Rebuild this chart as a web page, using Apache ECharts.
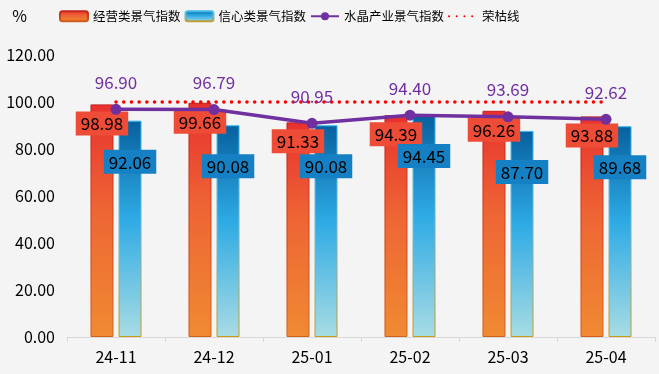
<!DOCTYPE html>
<html><head><meta charset="utf-8">
<script src="https://cdn.jsdelivr.net/npm/echarts@6/dist/echarts.min.js"></script>
<style>html,body{margin:0;padding:0;background:#F4F4F4}#c{width:659px;height:374px}</style>
</head><body><div id="c"></div>
<script>
const categories = ['24-11','24-12','25-01','25-02','25-03','25-04'];
const businessIndex = [98.98, 99.66, 91.33, 94.39, 96.26, 93.88];
const confidenceIndex = [92.06, 90.08, 90.08, 94.45, 87.70, 89.68];
const crystalIndex = [96.90, 96.79, 90.95, 94.40, 93.69, 92.62];
const boomLine = [100, 100, 100, 100, 100, 100];
const yTicks = [0, 20, 40, 60, 80, 100, 120];

const FONT = '"Noto Sans CJK SC","Noto Sans",sans-serif';
const chart = echarts.init(document.getElementById('c'));
const grad = (stops) => new echarts.graphic.LinearGradient(0,0,0,1, stops.map((c)=>({offset:c[0], color:c[1]})));
chart.setOption({
  backgroundColor: '#F4F4F4',
  textStyle: {fontFamily: FONT},
  legend: {
    top: 10, left: 59, padding: 0, itemWidth: 28, itemHeight: 10, itemGap: 4,
    textStyle: {fontSize: 12.5, color: '#000', fontFamily: FONT},
    data: ['经营类景气指数','信心类景气指数',
      {name: '水晶产业景气指数'},
      {name: '荣枯线', itemStyle: {opacity: 0}}]
  },
  grid: {left: 67, right: 4, top: 55, bottom: 37},
  xAxis: {
    type: 'category', data: categories,
    axisLine: {lineStyle: {color: '#D9D9D9'}},
    axisTick: {show: true, length: 5, lineStyle: {color: '#D9D9D9'}},
    axisLabel: {fontSize: 16, color: '#000', margin: 12, fontFamily: FONT}
  },
  yAxis: {
    type: 'value', min: yTicks[0], max: yTicks[yTicks.length-1], interval: 20,
    name: '%', nameLocation: 'end', nameGap: 31,
    nameTextStyle: {fontSize: 16, color: '#000', align: 'right', padding: [0, 40, 0, 0]},
    axisLine: {show: false}, axisTick: {show: false},
    splitLine: {show: false},
    axisLabel: {fontSize: 16, color: '#000', margin: 12, formatter: v => v.toFixed(2), fontFamily: FONT}
  },
  series: [
    {
      name: '经营类景气指数', type: 'bar', data: businessIndex,
      barWidth: 23, barGap: '22%',
      itemStyle: {
        color: grad([[0,'#E8302E'],[0.45,'#EE6534'],[1,'#F08A32']]),
        borderColor: grad([[0,'#C0201A'],[1,'#D0621E']]), borderWidth: 1
      },
      label: {
        show: true, position: 'insideTop', distance: 7,
        formatter: p => p.value.toFixed(2),
        fontSize: 17, color: '#000', backgroundColor: '#EE4C36',
        padding: [4, 5, 3, 5], fontFamily: FONT
      },
      z: 2
    },
    {
      name: '信心类景气指数', type: 'bar', data: confidenceIndex,
      barWidth: 23,
      itemStyle: {
        color: grad([[0,'#07609F'],[0.45,'#2DAAE4'],[1,'#A8DCE4']]),
        borderColor: grad([[0,'#30B8F0'],[0.5,'#7CB6C8'],[1,'#C89A18']]), borderWidth: 1
      },
      label: {
        show: true, position: 'insideTop', distance: 29,
        formatter: p => p.value.toFixed(2),
        fontSize: 17, color: '#000', backgroundColor: '#1680C4',
        padding: [4, 5, 3, 5], fontFamily: FONT
      },
      z: 2
    },
    {
      name: '水晶产业景气指数', type: 'line', data: crystalIndex,
      symbol: 'circle', symbolSize: 11,
      itemStyle: {color: '#7030A0'},
      lineStyle: {color: '#7030A0', width: 3.5},
      label: {
        show: true, position: 'top', distance: 13,
        formatter: p => p.value.toFixed(2),
        fontSize: 17, color: '#7030A0', fontFamily: FONT
      },
      z: 5
    },
    {
      name: '荣枯线', type: 'line', data: boomLine,
      symbol: 'none', showSymbol: false,
      itemStyle: {color: '#FF0000'},
      lineStyle: {color: '#FF0000', width: 3.5, type: [0.1, 7.6], cap: 'round'},
      z: 4
    }
  ]
});
</script></body></html>
